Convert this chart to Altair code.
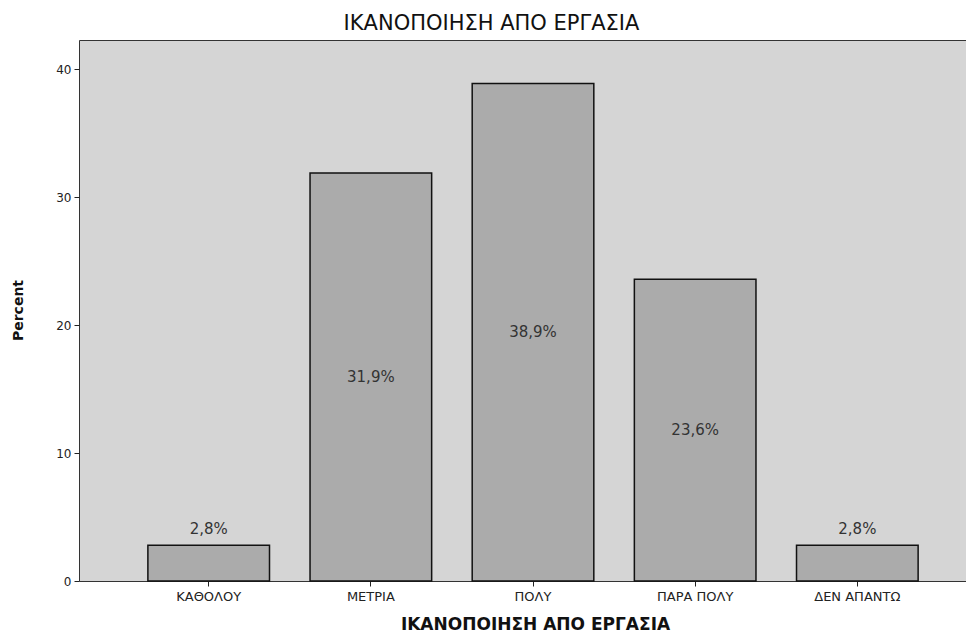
import altair as alt
import pandas as pd

categories = ["ΚΑΘΟΛΟΥ", "ΜΕΤΡΙΑ", "ΠΟΛΥ", "ΠΑΡΑ ΠΟΛΥ", "ΔΕΝ ΑΠΑΝΤΩ"]
percents = [2.8, 31.9, 38.9, 23.6, 2.8]
y_ticks = [0, 10, 20, 30, 40]
title_text = "ΙΚΑΝΟΠΟΙΗΣΗ ΑΠΟ ΕΡΓΑΣΙΑ"

df = pd.DataFrame({"cat": categories, "pct": percents})

FONT = "DejaVu Sans"

x_enc = alt.X(
    "cat:N",
    sort=categories,
    scale=alt.Scale(paddingInner=0.25, paddingOuter=0.36, align=0.59),
    axis=alt.Axis(
        title=title_text,
        labelAngle=0,
        labelFont=FONT,
        labelFontSize=13,
        labelColor="#222",
        labelPadding=4,
        tickSize=5,
        tickColor="#222",
        domain=False,
        titleFont=FONT,
        titleFontSize=17,
        titleFontWeight="bold",
        titleColor="#111",
        titleX=456,
        titleY=43,
        titleBaseline="middle",
        titleAlign="center",
    ),
)
y_scale = alt.Scale(domain=[0, 42.3], nice=False, zero=True)

bars = alt.Chart(df).mark_bar(
    color="#ababab", stroke="#111", strokeWidth=1.5
).encode(
    x=x_enc,
    y=alt.Y(
        "pct:Q",
        scale=y_scale,
        axis=alt.Axis(
            title="Percent",
            values=y_ticks,
            grid=False,
            domain=False,
            labelFont=FONT,
            labelFontSize=12,
            labelColor="#222",
            labelPadding=3,
            tickSize=5,
            tickColor="#222",
            titleFont=FONT,
            titleFontSize=14,
            titleFontWeight="bold",
            titleColor="#111",
            titleX=-61,
            titleY=270,
            titleAngle=-90,
            titleBaseline="middle",
            titleAlign="center",
        ),
    ),
)

labels = alt.Chart(df).transform_calculate(
    label="replace(format(datum.pct, '.1f'), '.', ',') + '%'",
    ypos="datum.pct > 10 ? datum.pct / 2 : datum.pct + 1.3",
).mark_text(
    font=FONT, fontSize=15, color="#333", baseline="middle"
).encode(
    x=alt.X("cat:N", sort=categories),
    y=alt.Y("ypos:Q", scale=y_scale),
    text="label:N",
)

chart = (
    alt.layer(bars, labels)
    .properties(
        width=887,
        height=541,
        background="white",
        title=alt.TitleParams(
            title_text,
            font=FONT,
            fontSize=21,
            fontWeight="normal",
            color="#111",
            anchor="middle",
            dx=-31,
            offset=6,
        ),
        autosize=alt.AutoSizeParams(type="none"),
        padding={"left": 71, "top": 32, "right": 0, "bottom": 52},
    )
    .configure_view(fill="#d5d5d5", stroke="#333", strokeWidth=1)
)

chart.save("out.html", embed_options={"renderer": "svg", "actions": False})
